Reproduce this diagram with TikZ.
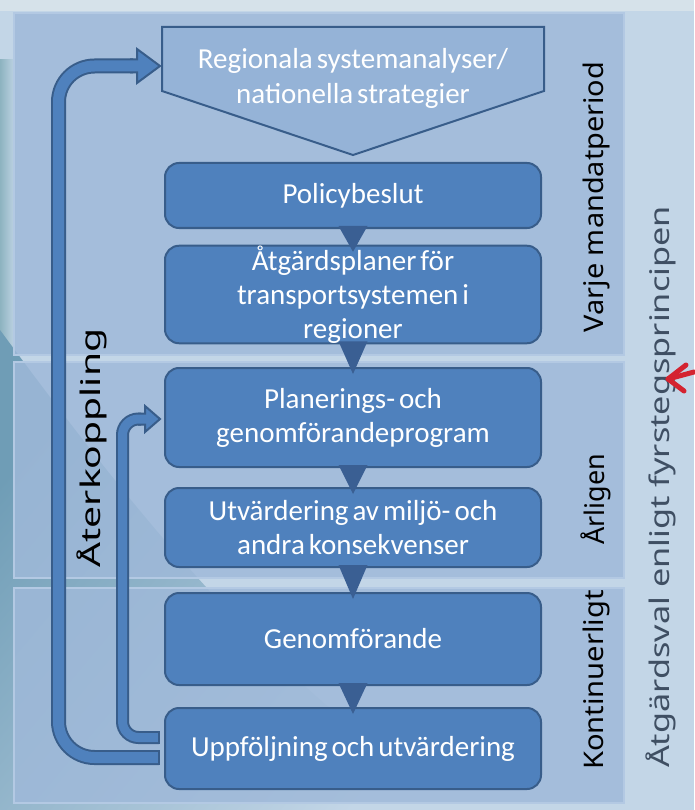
\documentclass[tikz,border=0pt]{standalone}
\usepackage{graphicx}
\usepackage{fontspec}
\setmainfont{Carlito}[WordSpace=0.6]
\newfontfamily\labfont{Noto Sans}
\usetikzlibrary{calc}
\definecolor{boxblue}{HTML}{4F81BD}
\definecolor{boxline}{HTML}{385D8A}
\definecolor{tricol}{HTML}{3A5F93}
\definecolor{bandfill}{HTML}{9FB9D9}
\definecolor{bandline}{HTML}{B3C9E3}
\definecolor{bgright}{HTML}{C3D6E7}
\definecolor{bgdark}{HTML}{6F9DB6}
\definecolor{bgstrip}{HTML}{8DB3C0}
\definecolor{bgtop}{HTML}{D6E2EA}
\definecolor{pentfill}{HTML}{95B3D7}
\definecolor{sidetext}{HTML}{3F4F63}
\definecolor{redmark}{HTML}{D42330}
\begin{document}
\begin{tikzpicture}[x=1pt,y=-1pt,
  stepbox/.style={draw=boxline, fill=boxblue, line width=2pt, rounded corners=14pt,
    minimum width=376pt, align=center, text=white,
    font=\fontsize{29}{34}\selectfont, inner sep=0pt},
  band/.style={draw=bandline, fill=bandfill, fill opacity=0.85, line width=1.5pt,
    minimum width=610pt, inner sep=0pt},
  sidelabel/.style={rotate=90, font=\labfont\fontsize{27}{30}\selectfont, text=black, inner sep=0pt},
  fb/.style={draw=boxline, line width=2pt, double=boxblue},
  headfill/.style={fill=boxblue},
  headline/.style={draw=boxline, line width=2pt, line join=miter},
  conn/.style={fill=tricol}
]
\useasboundingbox (0,0) rectangle (694,810);
% background
\fill[bgright] (0,0) rectangle (694,810);
\shade[left color=bgstrip, right color=bgright] (0,60) rectangle (16,810);
\shade[left color=bgdark, right color=bgright, shading angle=50]
  (0,330) .. controls (140,520) and (300,720) .. (480,810) -- (0,810) -- cycle;
\fill[bgtop] (0,0) rectangle (694,11);
% bands
\node[band, minimum height=342pt] (b1) at (319,184) {};
\node[band, minimum height=216pt] (b2) at (319,470) {};
\node[band, minimum height=215pt] (b3) at (319,695.5) {};
% pentagon
\filldraw[fill=pentfill, draw=boxline, line width=2pt, line join=miter]
  (162,27) -- (544,27) -- (544,91) -- (353,155) -- (162,91) -- cycle;
\node[text=white, align=center, font=\fontsize{29}{35}\selectfont, inner sep=0pt] (pent) at (353,78)
  {Regionala systemanalyser/\\nationella strategier};
\coordinate (pentin) at (160,66);
% boxes
\node[stepbox, minimum height=65pt] (pol) at (353,195.5) {Policybeslut};
\node[stepbox, minimum height=97pt] (atg) at (353,294.5) {Åtgärdsplaner för\\transportsystemen i\\regioner};
\node[stepbox, minimum height=99pt] (pla) at (353,417.5) {Planerings- och\\genomförandeprogram};
\node[stepbox, minimum height=79pt] (utv) at (353,527.5) {Utvärdering av miljö- och\\andra konsekvenser};
\node[stepbox, minimum height=92pt] (gen) at (353,639) {Genomförande};
\node[stepbox, minimum height=81pt] (upp) at (353,748.5) {Uppföljning och utvärdering};
% connectors (triangles)
\foreach \a/\b in {pol/atg, atg/pla, pla/utv, utv/gen, gen/upp}{
  \fill[conn] ($(\a.south)+(-14.5,-3)$) -- ($(\a.south)+(14.5,-3)$) -- ($(\b.north)+(0,7)$) -- cycle;
}
% outer feedback arrow
\coordinate (os) at ($(upp.west)+(-5,9)$);
\coordinate (oc1) at (58.5,757.5);
\coordinate (oc2) at (58.5,66);
\coordinate (oe) at (133,66);
\draw[fb, double distance=11pt, rounded corners=36pt] (os) -- (oc1) -- (oc2) -- (oe);
\draw[boxline, line width=2pt] ($(os)+(0,-7.5)$) -- ($(os)+(0,7.5)$);
\fill[headfill] (130,59.5) -- (137,59.5) -- (137,49) -- (pentin) -- (137,83) -- (137,72.5) -- (130,72.5) -- cycle;
\draw[headline] (130,59.5) -- (137,59.5) -- (137,49) -- (pentin) -- (137,83) -- (137,72.5) -- (130,72.5);
% inner feedback arrow
\coordinate (is) at ($(upp.west)+(-5,-11)$);
\coordinate (ic1) at (122.5,737.5);
\coordinate (ic2) at (122.5,419);
\coordinate (ie) at (141,419);
\coordinate (plain) at ($(pla.west)+(-4,1.5)$);
\draw[fb, double distance=9pt, rounded corners=16pt] (is) -- (ic1) -- (ic2) -- (ie);
\draw[boxline, line width=2pt] ($(is)+(0,-6.5)$) -- ($(is)+(0,6.5)$);
\fill[headfill] (138,413.5) -- (145,413.5) -- (145,406) -- (plain) -- (145,432) -- (145,424.5) -- (138,424.5) -- cycle;
\draw[headline] (138,413.5) -- (145,413.5) -- (145,406) -- (plain) -- (145,432) -- (145,424.5) -- (138,424.5);
% side labels
\node[sidelabel] (lvarje) at (596,197) {\scalebox{1.07}[1]{Varje mandatperiod}};
\node[sidelabel] (larl) at (596,499) {Årligen};
\node[sidelabel] (lkont) at (596,680) {\scalebox{1.08}[1]{Kontinuerligt}};
\node[sidelabel] (later) at (92,448) {\scalebox{1.45}[1]{Återkoppling}};
\node[sidelabel, text=sidetext] (latg) at (661,487) {\scalebox{1.27}[1]{Åtgärdsval enligt fyrstegsprincipen}};
% red mark
\draw[redmark, line width=5pt, line cap=round, line join=round] (686,365) -- (668,379) -- (684,391);
\draw[redmark, line width=5pt, line cap=round] (668,379) -- (694,372);
\end{tikzpicture}
\end{document}
